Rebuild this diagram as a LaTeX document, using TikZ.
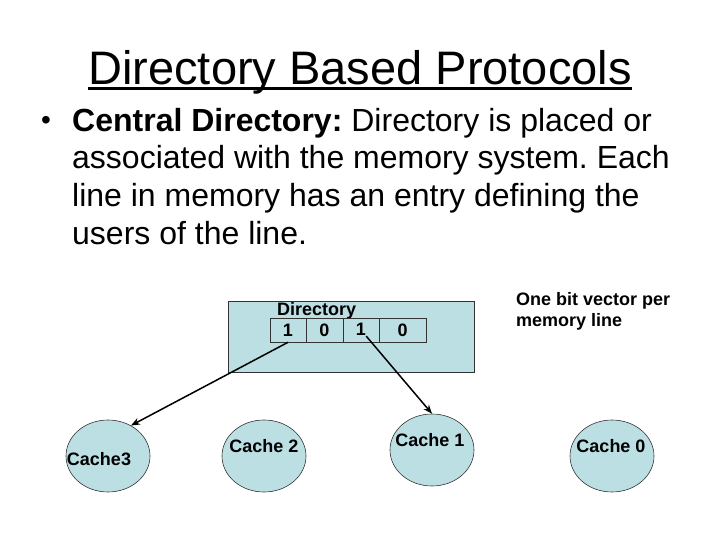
\documentclass[tikz,border=0pt]{standalone}
\usepackage{fontspec}
\setmainfont{Liberation Sans}
\usetikzlibrary{arrows.meta,shapes.geometric,calc}
\definecolor{cachefill}{RGB}{187,223,227}
\frenchspacing
\begin{document}
\begin{tikzpicture}[x=1pt,y=-1pt,
  lbl/.style={font=\fontsize{18}{21}\selectfont\bfseries, inner sep=0pt},
  bodytext/.style={font=\fontsize{32}{37.6}\selectfont, inner sep=0pt, align=left},
  cache/.style={ellipse, draw=black!80, line width=0.6pt, fill=cachefill, minimum width=84pt, minimum height=72pt, inner sep=0pt},
  cell/.style={rectangle, draw=black!80, line width=0.6pt, minimum height=24pt, inner sep=0pt, font=\fontsize{18}{21}\selectfont\bfseries},
  conn/.style={-{Stealth[length=9pt,width=7pt]}, line width=1.5pt},
  ]
\useasboundingbox (0,0) rectangle (720,540);
% title
\node[font=\fontsize{47}{56}\selectfont, anchor=base, inner sep=0pt] (title) at (360,85) {Directory Based Protocols};
\draw[line width=3pt] ($(title.base west)+(0,4)$) -- ($(title.base east)+(0,4)$);
% bullet text
\node[font=\fontsize{28}{32}\selectfont, anchor=base, inner sep=0pt] (bullet) at (46,130) {•};
\node[bodytext, anchor=north west] (body) at (72,108) {\textbf{Central Directory:} Directory is placed or\\
associated with the memory system. Each\\
line in memory has an entry defining the\\
users of the line.};
% directory box
\node[rectangle, draw=black!80, line width=0.6pt, fill=cachefill, minimum width=246pt, minimum height=71pt, inner sep=0pt] (dirbox) at (351,336.5) {};
\node[lbl, anchor=base west] (dirlabel) at (277,315) {Directory};
\node[cell, minimum width=36pt] (d1) at (288,330) {1};
\node[cell, minimum width=37pt] (d2) at (324.5,330) {0};
\node[cell, minimum width=36pt] (d3) at (361,330) {\raisebox{2pt}{1}};
\node[cell, minimum width=47pt] (d4) at (402.5,330) {0};
% side note
\node[lbl, anchor=north west, align=left] (note) at (516,292) {One bit vector per\\memory line};
% caches
\node[cache] (c3) at (108,456) {};
\node[lbl] (c3t) at (99,459) {Cache3};
\node[cache] (c2) at (264,456) {};
\node[lbl] (c2t) at (264,446) {Cache 2};
\node[cache] (c1) at (432,450) {};
\node[lbl] (c1t) at (430,440) {Cache 1};
\node[cache] (c0) at (612,456) {};
\node[lbl] (c0t) at (611,446) {Cache 0};
% connectors
\draw[conn] (d1.south) -- (c3.53);
\draw[conn, shorten <=8pt] (d3.center) -- (c1.north);
\end{tikzpicture}
\end{document}
